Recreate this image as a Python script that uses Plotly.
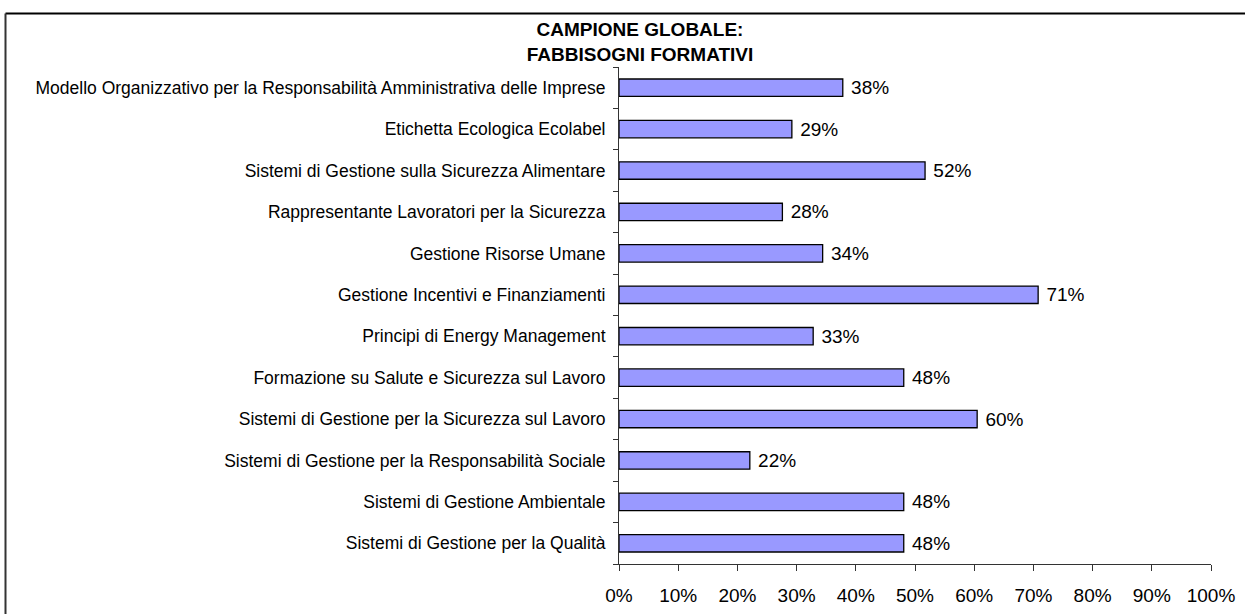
import plotly.graph_objects as go

categories = [
    "Modello Organizzativo per la Responsabilità Amministrativa delle Imprese",
    "Etichetta Ecologica Ecolabel",
    "Sistemi di Gestione sulla Sicurezza Alimentare",
    "Rappresentante Lavoratori per la Sicurezza",
    "Gestione Risorse Umane",
    "Gestione Incentivi e Finanziamenti",
    "Principi di Energy Management",
    "Formazione su Salute e Sicurezza sul Lavoro",
    "Sistemi di Gestione per la Sicurezza sul Lavoro",
    "Sistemi di Gestione per la Responsabilità Sociale",
    "Sistemi di Gestione Ambientale",
    "Sistemi di Gestione per la Qualità",
]
values = [37.8, 29.2, 51.7, 27.6, 34.4, 70.8, 32.8, 48.1, 60.5, 22.1, 48.1, 48.1]
tick_vals = [0, 10, 20, 30, 40, 50, 60, 70, 80, 90, 100]
tick_text = [f"{v}%" for v in tick_vals]

W, H = 1245, 614
ML, MR, MT, MB = 619, 34, 67, 50
PW, PH = W - ML - MR, H - MT - MB

font = "Liberation Sans, Arial, sans-serif"

fig = go.Figure(go.Bar(
    y=categories,
    x=values,
    orientation="h",
    marker=dict(color="#9999FF", line=dict(color="black", width=1.3)),
    text=[f" {v:.0f}%" for v in values],
    textposition="outside",
    constraintext="none",
    textfont=dict(family=font, size=19, color="black"),
    cliponaxis=False,
    width=0.42,
))

def px_x(px):
    return (px - ML) / PW

def px_y(py):
    return (H - MB - py) / PH

fig.update_layout(
    width=W, height=H,
    margin=dict(l=ML, r=MR, t=MT, b=MB, pad=0, autoexpand=False),
    paper_bgcolor="white",
    plot_bgcolor="white",
    showlegend=False,
    font=dict(family=font, size=17, color="black"),
    title=dict(
        text="<b>CAMPIONE GLOBALE:<br>FABBISOGNI FORMATIVI</b>",
        x=640 / W, xref="container", xanchor="center",
        y=1 - 36 / H, yref="container", yanchor="top",
        font=dict(family=font, size=19, color="black"),
        automargin=False,
    ),
    xaxis=dict(
        range=[0, 100],
        tickvals=tick_vals,
        ticktext=tick_text,
        ticks="outside", ticklen=6, tickcolor="#333333",
        ticklabelstandoff=8,
        showline=True, linecolor="#333333", linewidth=1,
        showgrid=False, zeroline=False,
        tickfont=dict(family=font, size=19, color="black"),
        fixedrange=True,
        automargin=False,
    ),
    yaxis=dict(
        categoryorder="array",
        categoryarray=categories[::-1],
        ticks="outside", ticklen=5, tickcolor="#333333",
        tickson="boundaries",
        ticklabelstandoff=9,
        showline=True, linecolor="#333333", linewidth=1,
        showgrid=False, zeroline=False,
        tickfont=dict(family=font, size=17.5, color="black"),
        fixedrange=True,
        automargin=False,
    ),
    shapes=[
        dict(type="line", xref="paper", yref="paper",
             x0=px_x(5.5), x1=px_x(1260), y0=px_y(13.5), y1=px_y(13.5),
             line=dict(color="black", width=2)),
        dict(type="line", xref="paper", yref="paper",
             x0=px_x(5.5), x1=px_x(5.5), y0=px_y(13.5), y1=px_y(640),
             line=dict(color="#333333", width=2)),
    ],
)

fig.write_html(
    "out.html",
    config={"displayModeBar": False},
    post_script="document.body.style.margin='0';document.body.style.overflow='hidden';",
)
